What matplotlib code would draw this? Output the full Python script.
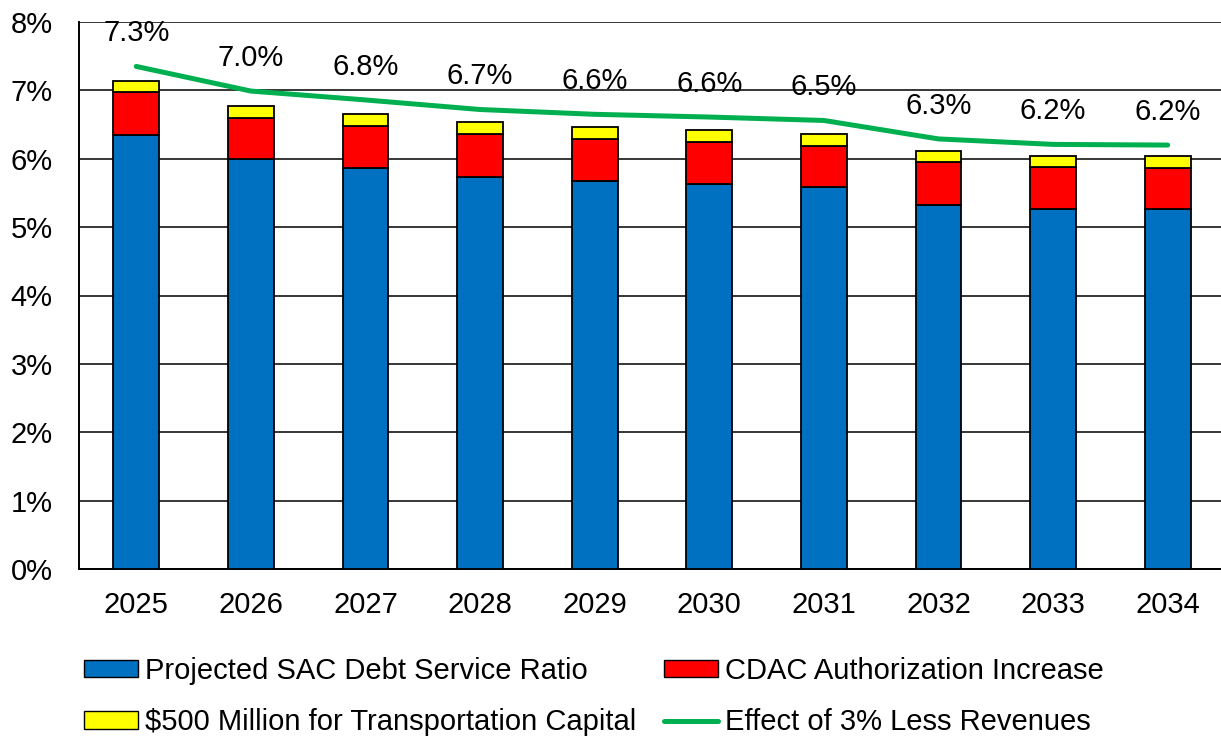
import matplotlib
matplotlib.use('Agg')
import matplotlib.pyplot as plt
import numpy as np
from matplotlib.patches import Patch
from matplotlib.lines import Line2D

plt.rcParams['font.family'] = ['Liberation Sans', 'DejaVu Sans']

years = ['2025', '2026', '2027', '2028', '2029', '2030', '2031', '2032', '2033', '2034']
sac_ratio = [6.35, 5.99, 5.87, 5.74, 5.68, 5.63, 5.58, 5.33, 5.26, 5.26]
cdac_increase = [0.62, 0.61, 0.61, 0.62, 0.61, 0.62, 0.61, 0.62, 0.62, 0.61]
transport_capital = [0.165, 0.165, 0.17, 0.175, 0.17, 0.17, 0.17, 0.17, 0.16, 0.17]
less_revenues = [7.35, 6.99, 6.86, 6.72, 6.65, 6.61, 6.56, 6.29, 6.21, 6.20]
less_revenues_labels = ['7.3%', '7.0%', '6.8%', '6.7%', '6.6%', '6.6%', '6.5%', '6.3%', '6.2%', '6.2%']

blue = '#0070C0'
red = '#FF0000'
yellow = '#FFFF00'
green = '#00B050'

fig = plt.figure(figsize=(12.21, 7.38), dpi=100)
ax = fig.add_axes([79 / 1221, 169 / 738, 1146 / 1221, 547 / 738])

x = np.arange(len(years))
width = 0.4
bottom2 = np.array(sac_ratio) + np.array(cdac_increase)

ax.bar(x, sac_ratio, width, color=blue, edgecolor='black', linewidth=1.3, zorder=3)
ax.bar(x, cdac_increase, width, bottom=sac_ratio, color=red, edgecolor='black', linewidth=1.3, zorder=3)
ax.bar(x, transport_capital, width, bottom=bottom2, color=yellow, edgecolor='black', linewidth=1.3, zorder=3)
ax.plot(x, less_revenues, color=green, linewidth=3.6, solid_capstyle='round', zorder=4)

for xi, val, lab in zip(x, less_revenues, less_revenues_labels):
    ax.annotate(lab, (xi, val), xytext=(0, 24), textcoords='offset points',
                ha='center', va='center', fontsize=21)

ax.set_xlim(-0.5, 9.5)
ax.set_ylim(0, 8)
ax.set_yticks(range(0, 9))
ax.set_yticklabels([f'{v}%' for v in range(0, 9)])
ax.set_xticks(x)
ax.set_xticklabels(years)
ax.tick_params(axis='y', length=0, pad=19, labelsize=21)
ax.tick_params(axis='x', length=0, pad=16, labelsize=21)
ax.yaxis.grid(True, color='black', linewidth=1.1, zorder=0)
ax.set_axisbelow(True)

for side in ['top', 'right']:
    ax.spines[side].set_visible(False)
ax.spines['left'].set_linewidth(1.4)
ax.spines['bottom'].set_linewidth(1.4)

handles = [
    Patch(facecolor=blue, edgecolor='black', label='Projected SAC Debt Service Ratio'),
    Patch(facecolor=yellow, edgecolor='black', label='$500 Million for Transportation Capital'),
    Patch(facecolor=red, edgecolor='black', label='CDAC Authorization Increase'),
    Line2D([0], [0], color=green, linewidth=3.6, solid_capstyle='round', label='Effect of 3% Less Revenues'),
]
fig.legend(handles=handles, ncol=2, loc='upper left', bbox_to_anchor=(84 / 1221, 1 - 657 / 738),
           frameon=False, fontsize=21, handlelength=1.85, handleheight=0.55,
           handletextpad=0.25, columnspacing=0.95, labelspacing=0.8, borderpad=0, borderaxespad=0)

fig.savefig('out.png', dpi=100)
